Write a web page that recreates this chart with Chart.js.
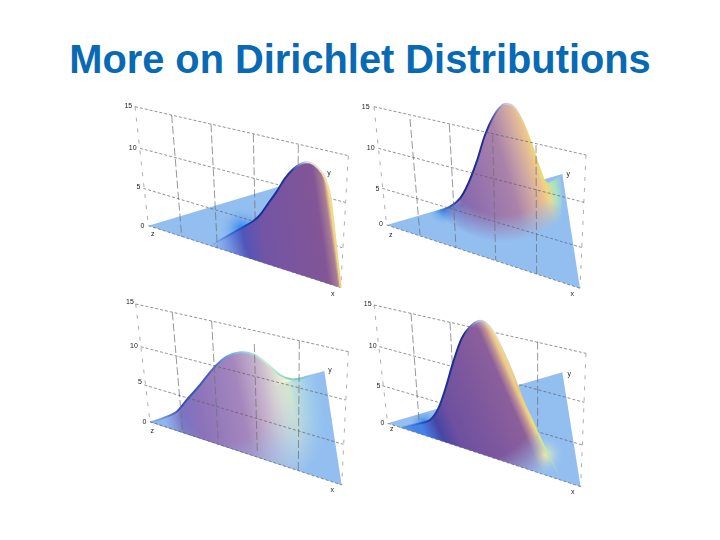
<!DOCTYPE html>
<html>
<head>
<meta charset="utf-8">
<title>More on Dirichlet Distributions</title>
<script src="https://cdn.jsdelivr.net/npm/chart.js@4"></script>
<style>
    body { margin: 0; background: #fff; }
    h1 {
        position: absolute; left: 0; top: 37px; width: 720px; margin: 0;
        text-align: center; white-space: nowrap;
        font: bold 39.8px "Liberation Sans", Arial, sans-serif;
        color: #0869b4;
    }
    canvas { position: absolute; filter: blur(0.35px); }
    #plotA { left: 110px; top: 95px; }
    #plotB { left: 350px; top: 95px; }
    #plotC { left: 110px; top: 295px; }
    #plotD { left: 350px; top: 295px; }
</style>
</head>
<body>
<h1>More on Dirichlet Distributions</h1>
<canvas id="plotA" width="240" height="205"></canvas>
<canvas id="plotB" width="240" height="205"></canvas>
<canvas id="plotC" width="240" height="205"></canvas>
<canvas id="plotD" width="240" height="205"></canvas>
<script>
/* Four Dirichlet density surfaces.
   Every panel uses a 720 x 615 data space over a 240 x 205 canvas. */

const PANEL_W = 240;
const PANEL_H = 205;
const DATA_W = 720;
const DATA_H = 615;
const BASE_BLUE = "rgb(147,190,240)";
const CLEAR_BLUE = "rgba(147,190,240,0)";

const tickLabels = ["15", "10", "5", "0"];
const cornerLabels = ["z", "y", "x"];

// ---- Panel A ----
const labelsAtA = [[55, 33], [68, 160], [85, 275], [97, 393], [128, 418], [657, 235], [668, 597]];
const rowsA = [[[75, 35], [715, 182]], [[90, 160], [705, 322]], [[100, 280], [697, 458]], [[115, 392], [692, 578]]];
const columnsA = [[[75, 35], [115, 392]], [[185, 60], [215, 425]], [[303, 88], [322, 460]], [[430, 118], [438, 490]], [[565, 150], [562, 535]], [[715, 182], [692, 578]]];
const floorA = [[115, 392], [640, 235], [692, 578]];
const ridgeA = [[300, 452], [350, 424], [400, 396], [430, 378], [450, 360], [475, 325], [500, 290], [525, 250], [550, 222], [575, 205], [600, 203], [625, 220], [645, 250], [660, 300], [670, 380], [680, 470], [692, 578]];
const frontA = [[300, 452], [692, 578]];

// ---- Panel B ----
const labelsAtB = [[47, 35], [62, 158], [82, 282], [93, 388], [122, 420], [655, 237], [667, 597]];
const rowsB = [[[72, 35], [708, 180]], [[85, 160], [702, 322]], [[97, 280], [697, 458]], [[110, 390], [690, 580]]];
const columnsB = [[[72, 35], [110, 390]], [[180, 72], [210, 420]], [[298, 88], [318, 460]], [[428, 120], [437, 495]], [[558, 150], [560, 538]], [[708, 180], [690, 580]]];
const floorB = [[110, 390], [637, 237], [690, 580]];
const ridgeB = [[255, 352], [300, 335], [330, 310], [355, 265], [380, 200], [405, 120], [430, 65], [455, 32], [475, 27], [495, 40], [520, 85], [545, 150], [565, 210], [585, 260], [600, 262], [635, 240]];
const frontB = [[255, 438], [635, 562]];

// ---- Panel C ----
const labelsAtC = [[60, 22], [72, 152], [90, 262], [103, 380], [127, 407], [660, 225], [667, 585]];
const rowsC = [[[77, 27], [715, 170]], [[92, 155], [707, 315]], [[103, 270], [700, 448]], [[120, 380], [695, 570]]];
const columnsC = [[[77, 27], [120, 380]], [[187, 52], [218, 412]], [[305, 78], [325, 445]], [[433, 147], [442, 475]], [[568, 138], [565, 528]], [[715, 170], [695, 570]]];
const floorC = [[120, 382], [643, 228], [695, 570]];
const ridgeC = [[120, 382], [170, 365], [200, 350], [230, 315], [270, 270], [310, 220], [350, 185], [390, 172], [430, 178], [470, 205], [510, 240], [545, 253], [580, 248], [643, 228]];
const frontC = [[120, 382], [643, 553]];

// ---- Panel D ----
const labelsAtD = [[53, 27], [68, 153], [85, 272], [97, 383], [125, 403], [658, 237], [668, 590]];
const rowsD = [[[72, 30], [708, 175]], [[88, 155], [703, 322]], [[97, 272], [697, 450]], [[113, 385], [692, 575]]];
const columnsD = [[[72, 30], [113, 385]], [[183, 55], [210, 415]], [[300, 82], [320, 440]], [[428, 110], [438, 480]], [[563, 140], [563, 435]], [[708, 175], [692, 575]]];
const floorD = [[113, 385], [637, 232], [692, 575]];
const ridgeD = [[150, 397], [210, 385], [240, 375], [265, 340], [285, 285], [310, 200], [335, 130], [360, 95], [385, 78], [405, 82], [430, 110], [460, 170], [490, 240], [520, 320], [550, 385], [575, 440], [600, 490], [625, 535], [640, 558]];
const frontD = [[150, 397], [640, 558]];

// ---- Surface shading ----

const styleA = {
    gridOnTop: false,
    shear: 0.143,
    body: [[235, "rgb(110,145,228)"], [290, "rgb(85,110,210)"], [340, "rgb(80,85,185)"], [400, "rgb(115,85,165)"], [575, "rgb(130,85,150)"], [602, "rgb(170,125,150)"], [612, "rgb(240,205,135)"], [630, "rgb(245,225,150)"]],
    mask: [600, 400, 200, 300],
    edge: [[300, "rgba(40,110,230,0)"], [400, "rgb(30,70,190)"], [450, "rgb(25,45,150)"], [545, "rgb(30,55,160)"], [590, "rgb(205,220,232)"], [640, "rgb(240,225,170)"], [692, "rgb(240,210,120)"]],
    glows: [[395, 402, 70, "rgb(40,130,235)"]],
};

const styleB = {
    gridOnTop: true,
    shear: 0.3,
    body: [[200, "rgb(90,80,170)"], [250, "rgb(135,105,175)"], [400, "rgb(170,130,170)"], [450, "rgb(205,165,165)"], [490, "rgb(235,195,145)"], [505, "rgb(240,215,130)"], [530, "rgb(170,230,190)"], [560, BASE_BLUE]],
    mask: [460, 170, 190, 270],
    edge: [[255, "rgba(60,130,230,0)"], [300, "rgb(40,90,200)"], [340, "rgb(25,40,140)"], [415, "rgb(35,50,150)"], [470, "rgb(205,205,225)"], [530, "rgb(235,210,120)"], [585, "rgb(225,225,110)"], [605, "rgba(140,225,190,0)"], [635, CLEAR_BLUE]],
    glows: [[280, 345, 50, "rgb(50,140,235)"], [605, 310, 45, "rgb(205,240,190)"]],
};

const styleC = {
    gridOnTop: true,
    shear: 0.2,
    body: [[90, "rgb(146,175,235)"], [140, "rgb(120,115,195)"], [200, "rgb(140,115,185)"], [330, "rgb(165,135,190)"], [400, "rgb(200,180,205)"], [450, "rgb(222,222,210)"], [480, "rgb(232,242,200)"], [530, "rgb(185,228,225)"], [580, BASE_BLUE]],
    mask: [350, 300, 140, 330],
    edge: [[120, "rgba(120,165,235,0.6)"], [210, "rgb(50,80,185)"], [300, "rgb(65,95,195)"], [380, "rgb(130,190,230)"], [470, "rgb(200,240,210)"], [540, "rgb(130,210,180)"], [590, "rgb(125,200,240)"], [625, CLEAR_BLUE], [643, CLEAR_BLUE]],
    glows: [],
};

const styleD = {
    gridOnTop: false,
    shear: 0.44,
    body: [[40, "rgb(70,130,230)"], [90, "rgb(70,70,165)"], [140, "rgb(110,80,160)"], [340, "rgb(140,95,155)"], [360, "rgb(190,145,150)"], [374, "rgb(235,200,135)"], [385, "rgb(235,220,130)"], [400, "rgb(230,240,150)"], [420, "rgb(175,230,190)"], [445, BASE_BLUE]],
    mask: [370, 300, 200, 310],
    edge: [[150, "rgba(50,130,230,0)"], [235, "rgb(30,60,170)"], [340, "rgb(25,40,140)"], [385, "rgb(180,190,220)"], [430, "rgb(235,220,190)"], [500, "rgb(230,200,140)"], [550, "rgb(235,225,120)"], [590, "rgb(190,235,170)"], [640, CLEAR_BLUE]],
    glows: [[222, 385, 45, "rgb(40,125,230)"], [585, 480, 62, "rgb(230,242,185)"]],
};

// Body colours run across the hump, skewed by the shear, and fade out towards the floor
function bodyPattern(style) {
    const off = document.createElement("canvas");
    off.width = PANEL_W;
    off.height = PANEL_H;
    const g = off.getContext("2d");
    g.scale(PANEL_W / DATA_W, PANEL_H / DATA_H);

    const k = style.shear;
    const first = style.body[0][0];
    const last = style.body[style.body.length - 1][0];
    const span = (last - first) / (1 + k * k);
    const ramp = g.createLinearGradient(first, 0, first + span, -k * span);
    style.body.forEach(([s, color]) => ramp.addColorStop((s - first) / (last - first), color));
    g.fillStyle = ramp;
    g.fillRect(0, 0, DATA_W, DATA_H);

    const [cx, cy, r0, r1] = style.mask;
    const fade = g.createRadialGradient(cx, cy, r0, cx, cy, r1);
    fade.addColorStop(0, "rgba(0,0,0,1)");
    fade.addColorStop(1, "rgba(0,0,0,0)");
    g.globalCompositeOperation = "destination-in";
    g.fillStyle = fade;
    g.fillRect(0, 0, DATA_W, DATA_H);
    return g.createPattern(off, "no-repeat");
}

function floorPattern(style) {
    const off = document.createElement("canvas");
    off.width = PANEL_W;
    off.height = PANEL_H;
    const g = off.getContext("2d");
    g.scale(PANEL_W / DATA_W, PANEL_H / DATA_H);
    g.fillStyle = BASE_BLUE;
    g.fillRect(0, 0, DATA_W, DATA_H);
    style.glows.forEach(([cx, cy, r, color]) => {
        const spot = g.createRadialGradient(cx, cy, 0, cx, cy, r);
        spot.addColorStop(0, color);
        spot.addColorStop(1, CLEAR_BLUE);
        g.fillStyle = spot;
        g.fillRect(0, 0, DATA_W, DATA_H);
    });
    return g.createPattern(off, "no-repeat");
}

function edgeGradient(canvas, style) {
    const stops = style.edge;
    const first = stops[0][0];
    const last = stops[stops.length - 1][0];
    const scale = PANEL_W / DATA_W;
    const ramp = canvas.getContext("2d").createLinearGradient(first * scale, 0, last * scale, 0);
    stops.forEach(([x, color]) => ramp.addColorStop((x - first) / (last - first), color));
    return ramp;
}

// ---- Chart setup ----

const toPoints = (pairs) => pairs.map(([x, y]) => ({ x, y }));

function gridDatasets(rows, columns) {
    const rowSets = rows.map((line) => ({
        data: toPoints(line),
        showLine: true,
        borderColor: "rgba(90,90,90,0.65)",
        borderWidth: 1,
        borderDash: [3, 2],
        pointRadius: 0,
    }));
    // the outer box edges are much sparser than the inner columns
    const columnSets = columns.map((line, i) => {
        const outer = i === 0 || i === columns.length - 1;
        return {
            data: toPoints(line),
            showLine: true,
            borderColor: outer ? "rgba(120,120,120,0.6)" : "rgba(110,110,110,0.7)",
            borderWidth: 1,
            borderDash: outer ? [4, 7] : [8, 3],
            pointRadius: 0,
        };
    });
    return [...rowSets, ...columnSets];
}

const labelPlugin = {
    id: "panelLabels",
    afterDatasetsDraw(chart, args, opts) {
        const { ctx, scales } = chart;
        const texts = [...tickLabels, ...cornerLabels];
        ctx.save();
        ctx.font = '7px "Liberation Sans", Arial, sans-serif';
        ctx.fillStyle = "#222";
        ctx.textAlign = "center";
        ctx.textBaseline = "middle";
        texts.forEach((text, i) => {
            const [x, y] = opts.at[i];
            ctx.fillText(text, scales.x.getPixelForValue(x), scales.y.getPixelForValue(y));
        });
        ctx.restore();
    },
};

function drawPanel(id, labelsAt, rows, columns, floor, ridge, front, style) {
    const canvas = document.getElementById(id);
    const grid = gridDatasets(rows, columns);

    const surface = [
        {
            data: toPoints(ridge),
            showLine: true,
            tension: 0.3,
            fill: "+1",
            backgroundColor: bodyPattern(style),
            borderColor: edgeGradient(canvas, style),
            borderWidth: 2,
            pointRadius: 0,
        },
        { data: toPoints(front), showLine: true, borderWidth: 0, borderColor: "transparent", pointRadius: 0 },
    ];
    const ground = [
        {
            data: toPoints(floor),
            showLine: true,
            fill: "+1",
            backgroundColor: floorPattern(style),
            borderWidth: 0,
            borderColor: "transparent",
            pointRadius: 0,
        },
        { data: toPoints([floor[0], floor[2]]), showLine: true, borderWidth: 0, borderColor: "transparent", pointRadius: 0 },
    ];

    // first dataset is painted last
    const datasets = style.gridOnTop
        ? [...grid, ...surface, ...ground]
        : [...surface, ...grid, ...ground];

    return new Chart(canvas, {
        type: "scatter",
        data: { datasets },
        plugins: [labelPlugin],
        options: {
            responsive: false,
            animation: false,
            layout: { padding: 0 },
            plugins: {
                legend: { display: false },
                tooltip: { enabled: false },
                panelLabels: { at: labelsAt },
            },
            scales: {
                x: { type: "linear", display: false, min: 0, max: DATA_W },
                y: { type: "linear", display: false, min: 0, max: DATA_H, reverse: true },
            },
        },
    });
}

drawPanel("plotA", labelsAtA, rowsA, columnsA, floorA, ridgeA, frontA, styleA);
drawPanel("plotB", labelsAtB, rowsB, columnsB, floorB, ridgeB, frontB, styleB);
drawPanel("plotC", labelsAtC, rowsC, columnsC, floorC, ridgeC, frontC, styleC);
drawPanel("plotD", labelsAtD, rowsD, columnsD, floorD, ridgeD, frontD, styleD);
</script>
</body>
</html>
